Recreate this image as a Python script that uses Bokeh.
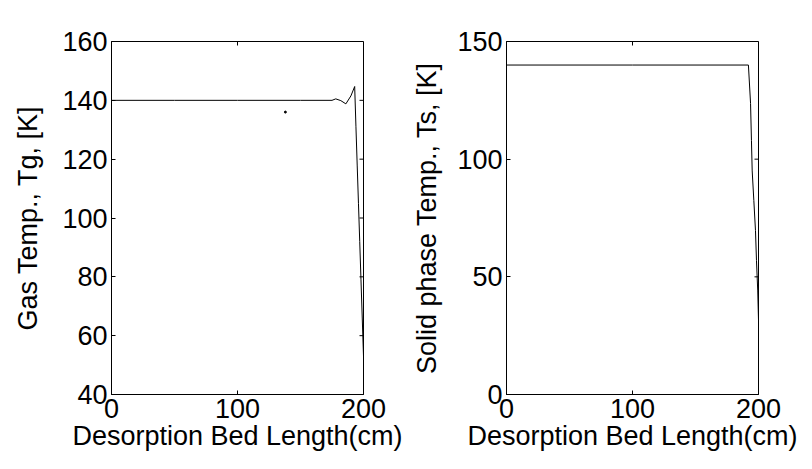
import math
from bokeh.plotting import figure
from bokeh.layouts import row
from bokeh.models import Range1d, FixedTicker
from bokeh.embed import file_html
from bokeh.resources import INLINE

# ---- data ----
x_ticks = [0, 100, 200]
tg_ticks = [40, 60, 80, 100, 120, 140, 160]
ts_ticks = [0, 50, 100, 150]

x_gas = [0, 50, 100, 150, 175, 178, 182, 186, 190, 193, 194, 195, 196, 197, 198, 199, 200]
tg = [140, 140, 140, 140, 140, 140.5, 139.9, 138.8, 141.5, 144.7, 131, 118, 105, 92, 79, 66, 53]

stray_x = [138]
stray_y = [136]

x_solid = [0, 100, 192, 193.7, 194.4, 195, 196.3, 197.6, 198.4, 199.4, 200]
ts = [140, 140, 140, 123.7, 108, 95, 82.4, 69.7, 57, 44, 31.5]

FONT = "Liberation Sans"
FS = "27px"
TICK = 4


def style(p, xr, yr, yticks, ylabel, label_standoff):
    for ax in p.xaxis + p.yaxis:
        ax.axis_line_color = "black"
        ax.major_tick_line_color = "black"
        ax.major_tick_in = TICK
        ax.major_tick_out = 0
        ax.minor_tick_line_color = None
        ax.major_label_text_font = FONT
        ax.major_label_text_font_size = FS
        ax.major_label_text_color = "black"
        ax.axis_label_text_font = FONT
        ax.axis_label_text_font_size = FS
        ax.axis_label_text_font_style = "normal"
        ax.axis_label_text_color = "black"
    p.xaxis.ticker = FixedTicker(ticks=x_ticks)
    p.yaxis.ticker = FixedTicker(ticks=yticks)
    p.xaxis.axis_label = "Desorption Bed Length(cm)"
    p.yaxis.axis_label = ylabel
    p.xaxis.major_label_standoff = 4
    p.yaxis.major_label_standoff = 4
    p.xaxis.axis_label_standoff = 0
    p.yaxis.axis_label_standoff = label_standoff
    # mirrored inward ticks on top and right edges
    p.ray(x=x_ticks, y=[yr[1]] * len(x_ticks), length=TICK, length_units="screen",
          angle=-math.pi / 2, line_color="black", line_width=1)
    p.ray(x=[xr[1]] * len(yticks), y=yticks, length=TICK, length_units="screen",
          angle=math.pi, line_color="black", line_width=1)
    p.grid.visible = False
    p.outline_line_color = "black"
    p.background_fill_color = "white"
    p.border_fill_color = "white"


xr = (0, 200)
yr1 = (40, 160)
yr2 = (0, 150)

p1 = figure(frame_width=252, frame_height=353, min_border_left=111, min_border_right=43,
            min_border_top=41, min_border_bottom=75,
            x_range=Range1d(*xr), y_range=Range1d(*yr1),
            output_backend="svg", toolbar_location=None)
p1.line(x_gas, tg, line_color="black", line_width=1)
p1.scatter(stray_x, stray_y, size=2, color="black")
style(p1, xr, yr1, tg_ticks, "Gas Temp., Tg, [K]", 16)

p2 = figure(frame_width=252, frame_height=353, min_border_left=100, min_border_right=54,
            min_border_top=41, min_border_bottom=75,
            x_range=Range1d(*xr), y_range=Range1d(*yr2),
            output_backend="svg", toolbar_location=None)
p2.line(x_solid, ts, line_color="black", line_width=1)
style(p2, xr, yr2, ts_ticks, "Solid phase Temp., Ts, [K]", 12)

layout = row(p1, p2)
open("out.html", "w").write(file_html(layout, INLINE))
